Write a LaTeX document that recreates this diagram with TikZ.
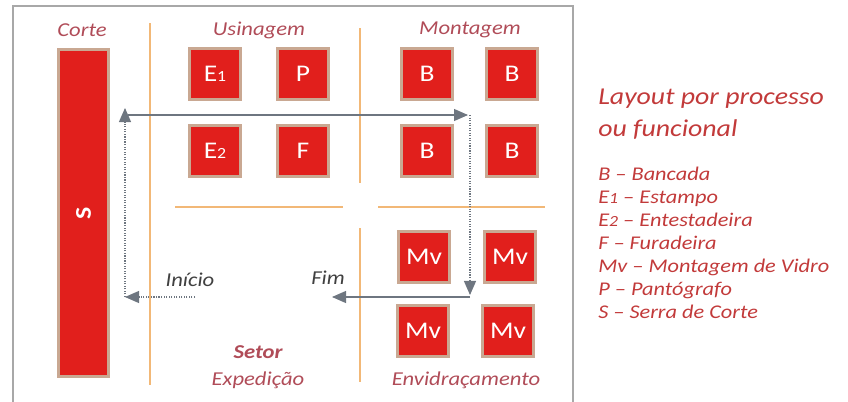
\documentclass[tikz,border=0pt]{standalone}
\usepackage{fontspec}
\setmainfont[FakeStretch=1.15]{Carlito}
\usepackage{tikz}
\usetikzlibrary{arrows.meta, positioning}
\definecolor{maqred}{HTML}{E11F1C}
\definecolor{maqrim}{HTML}{C9A892}
\definecolor{setorred}{HTML}{B04C58}
\definecolor{legred}{HTML}{C23A3A}
\definecolor{linhaor}{HTML}{F2B877}
\definecolor{setagray}{HTML}{6E7680}
\definecolor{molgray}{HTML}{A8A8A8}
\newcommand{\sub}[1]{{\fontsize{11}{11}\selectfont #1}}

\begin{document}
\begin{tikzpicture}[>={Triangle[length=0.35cm,width=0.3cm]}, x=0.025cm, y=-0.025cm]

                \tikzset{% This is the style settings for machines and labels
                    maq/.style={rectangle,minimum size=1.28cm,inner sep=0pt,fill=maqred,draw=maqrim,
                                        line width=2pt,text=white,font=\fontsize{17}{17}\selectfont},
                    setor/.style={text=setorred,font=\fontsize{14}{14}\selectfont\itshape},
                    marco/.style={text=black!75,font=\fontsize{14}{14}\selectfont\itshape},
                    leg/.style={anchor=base west,inner sep=0pt,text=legred,font=\fontsize{13.8}{14}\selectfont\itshape},
                    divisa/.style={linhaor,line width=2pt},
                    seta/.style={setagray,line width=0.8pt}}

                    \useasboundingbox (0,0) rectangle (848,401);
                    \draw [molgray,line width=1.5pt] (13,6) rectangle (573,410);

                    % divisions between the sectors
                    \draw [divisa] (150,23) -- (150,385);
                    \draw [divisa] (360,28) -- (360,183);
                    \draw [divisa] (360,228) -- (360,382);
                    \draw [divisa] (175,207) -- (343,207);
                    \draw [divisa] (378,207) -- (545,207);

                    \node [setor](corte) at (82,30) {Corte};
                    \node [setor](usinagem) at (259,30) {Usinagem};
                    \node [setor](montagem) at (470,30) {Montagem};
                    \node [setor](envidr) at (466,380) {Envidraçamento};
                    \node [setor,font=\fontsize{14}{14}\selectfont\bfseries\itshape](setor) at (258,352) {Setor};
                    \node [setor](exped) at (258,380) {Expedição};

                    \node [maq,minimum width=1.255cm,minimum height=8.18cm,font=\fontsize{16}{16}\selectfont\bfseries](serra) at (83.5,213) {\rotatebox{90}{S}};

                    \node [maq](e_1) at (215,74) {E\sub{1}};
                    \node [maq](p) at (303,74) {P};
                    \node [maq](e_2) at (215,151) {E\sub{2}};
                    \node [maq](f) at (303,151) {F};

                    \node [maq](b_1) at (427,74) {B};
                    \node [maq](b_2) at (512,74) {B};
                    \node [maq](b_3) at (427,151) {B};
                    \node [maq](b_4) at (512,151) {B};

                    \node [maq](mv_1) at (424,257) {Mv};
                    \node [maq](mv_2) at (510,257) {Mv};
                    \node [maq](mv_3) at (423,331) {Mv};
                    \node [maq](mv_4) at (508,331) {Mv};

                    \node [marco](inicio) at (190,280) {Início};
                    \node [marco](fim) at (328,278) {Fim};

                    \coordinate (ini) at (195,297);
                    \coordinate (c_1) at (125,297);
                    \coordinate (c_2) at (125,108);
                    \coordinate (c_3) at (128,115);
                    \coordinate (c_4) at (468,115);
                    \coordinate (c_5) at (470,115);
                    \coordinate (c_6) at (470,295);
                    \coordinate (c_7) at (470,297);
                    \coordinate (c_8) at (332,297);

                    \draw [->,seta,densely dotted] (ini) -- (c_1);
                    \draw [->,seta,densely dotted] (c_1) -- (c_2);
                    \draw [->,seta] (c_3) -- (c_4);
                    \draw [->,seta,densely dotted] (c_5) -- (c_6);
                    \draw [->,seta] (c_7) -- (c_8);

                    % legend
                    \node [leg,font=\fontsize{17.2}{18}\selectfont\itshape](titulo) at (598,104) {Layout por processo};
                    \node [leg,font=\fontsize{17.2}{18}\selectfont\itshape](titulo_2) at (598,136) {ou funcional};
                    \node [leg](l_b) at (598,180) {B – Bancada};
                    \node [leg](l_e1) at (598,203) {E\sub{1} – Estampo};
                    \node [leg](l_e2) at (598,226) {E\sub{2} – Entestadeira};
                    \node [leg](l_f) at (598,249) {F – Furadeira};
                    \node [leg](l_mv) at (598,272) {Mv – Montagem de Vidro};
                    \node [leg](l_p) at (598,295) {P – Pantógrafo};
                    \node [leg](l_s) at (598,318) {S – Serra de Corte};

            \end{tikzpicture}
\end{document}
